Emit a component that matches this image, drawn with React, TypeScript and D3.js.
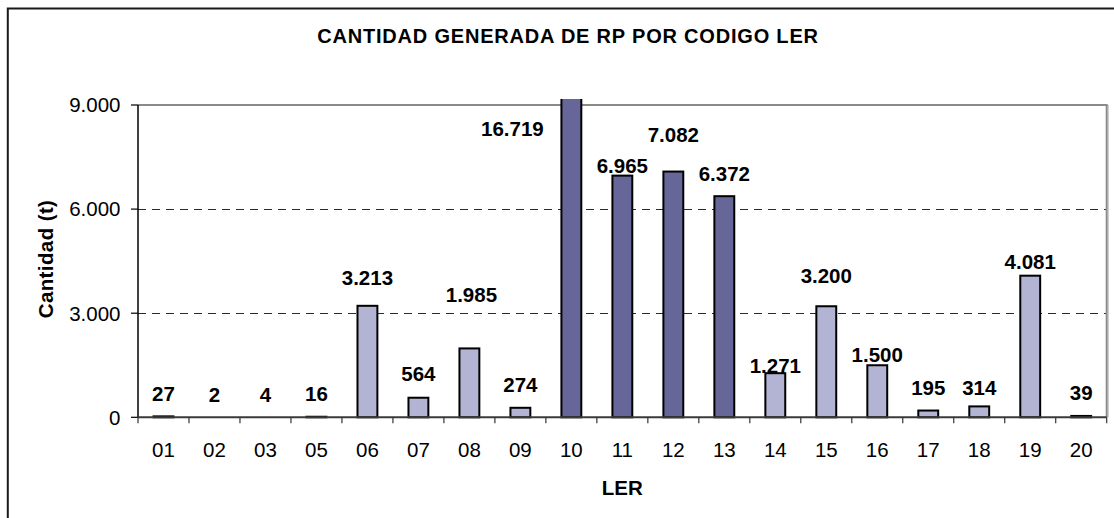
import React from "react";
import * as d3 from "d3";

const categories = ["01", "02", "03", "05", "06", "07", "08", "09", "10", "11", "12", "13", "14", "15", "16", "17", "18", "19", "20"];
const values = [27, 2, 4, 16, 3213, 564, 1985, 274, 16719, 6965, 7082, 6372, 1271, 3200, 1500, 195, 314, 4081, 39];
const highlighted = ["10", "11", "12", "13"];
const yTicks = [0, 3000, 6000, 9000];
const gridTicks = [3000, 6000];
const yMax = 9000;
const title = "CANTIDAD GENERADA DE RP POR CODIGO LER";
const yTitle = "Cantidad (t)";
const xTitle = "LER";

// label placement tweaks (layout, px relative to bar top / center)
const labelDx = [0, 0, 0, 0, 0, 0, 2, 0, -59, 0, 0, 0, 0, 0, 0, 0, 0, 0, 0];
const labelDy = [-23, -23, -23, -23.4, -28.3, -23.7, -53.4, -22.8, 23.3, -10, -36.6, -23, -8, -31, -11, -23, -19, -14, -23.3];

const W = 1114;
const H = 518;
const plot = { left: 138, right: 1106.7, top: 105, bottom: 417.3 };
const FONT = "'Liberation Sans', Arial, sans-serif";

const locale = d3.formatLocale({ decimal: ",", thousands: ".", grouping: [3], currency: ["", "€"] });
const fmt = locale.format(",d");

export default function App() {
  const x = d3.scaleBand<string>().domain(categories).range([plot.left, plot.right]).padding(0);
  const y = d3.scaleLinear().domain([0, yMax]).range([plot.bottom, plot.top]);
  const step = x.step();
  const barW = step * 0.39;
  const tickEdges = d3.range(categories.length + 1).map((i) => plot.left + i * step);

  return (
    <svg width={W} height={H} style={{ position: "absolute", left: 0, top: 0, background: "#fff" }} fontFamily={FONT}>
      <defs>
        <clipPath id="plotClip">
          <rect x={plot.left} y={plot.top - 6} width={plot.right - plot.left} height={plot.bottom - plot.top + 12} />
        </clipPath>
      </defs>
      <rect x={0} y={0} width={W} height={H} fill="#fff" />
      {/* outer chart frame (extends beyond the picture) */}
      <rect x={7.8} y={8.5} width={W + 50} height={H + 50} fill="#fff" stroke="#1a1a1a" strokeWidth={2} />

      {/* title */}
      <text x={568} y={43} textAnchor="middle" fontSize={20} fontWeight="bold" letterSpacing={0.8} fill="#000">
        {title}
      </text>

      {/* gridlines */}
      {gridTicks.map((t) => (
        <line
          key={t}
          x1={plot.left}
          x2={plot.right}
          y1={Math.round(y(t)) + 0.5}
          y2={Math.round(y(t)) + 0.5}
          stroke="#2a2a2a"
          strokeWidth={1}
          strokeDasharray="8,6"
          shapeRendering="crispEdges"
        />
      ))}

      {/* plot border top/right */}
      <line x1={plot.left} x2={plot.right + 1} y1={y(yMax)} y2={y(yMax)} stroke="#8a8a8a" strokeWidth={2} />
      <line x1={plot.right} x2={plot.right} y1={plot.top} y2={plot.bottom} stroke="#8a8a8a" strokeWidth={2} />
      <line x1={plot.right + 1.8} x2={plot.right + 1.8} y1={plot.top} y2={plot.bottom} stroke="#cfcfcf" strokeWidth={1} />

      {/* bars */}
      <g clipPath="url(#plotClip)">
        {categories.map((c, i) => {
          const v = values[i];
          const top = y(v);
          const h = plot.bottom - top;
          if (h < 0.5) return null;
          const cx = (x(c) as number) + step / 2;
          return (
            <rect
              key={c}
              x={cx - barW / 2}
              y={top}
              width={barW}
              height={h}
              fill={highlighted.includes(c) ? "#666699" : "#B3B3D3"}
              stroke="#000"
              strokeWidth={2}
            />
          );
        })}
      </g>

      {/* axes */}
      <line x1={plot.left} x2={plot.left} y1={plot.top} y2={plot.bottom} stroke="#000" strokeWidth={1.5} />
      <line x1={plot.left} x2={plot.right} y1={plot.bottom} y2={plot.bottom} stroke="#3a3a3a" strokeWidth={2} />
      {yTicks.map((t) => (
        <g key={t}>
          <line x1={plot.left - 7} x2={plot.left} y1={y(t)} y2={y(t)} stroke="#000" strokeWidth={1.2} />
          <text x={120.5} y={y(t)} dy="0.36em" textAnchor="end" fontSize={20.5} fill="#000">
            {fmt(t)}
          </text>
        </g>
      ))}
      {tickEdges.map((tx, i) => (
        <line key={i} x1={tx} x2={tx} y1={plot.bottom} y2={plot.bottom + 6} stroke="#333" strokeWidth={1.2} />
      ))}
      {categories.map((c) => (
        <text key={c} x={(x(c) as number) + step / 2} y={457.3} textAnchor="middle" fontSize={20.5} fill="#000">
          {c}
        </text>
      ))}

      {/* data labels */}
      {categories.map((c, i) => {
        const v = values[i];
        const top = y(Math.min(v, yMax));
        const cx = (x(c) as number) + step / 2 + labelDx[i];
        return (
          <text key={c} x={cx} y={top + labelDy[i]} dy="0.36em" textAnchor="middle" fontSize={20.5} fontWeight="bold" fill="#000">
            {fmt(v)}
          </text>
        );
      })}

      {/* axis titles */}
      <text x={(plot.left + plot.right) / 2} y={495} textAnchor="middle" fontSize={20.5} fontWeight="bold" fill="#000">
        {xTitle}
      </text>
      <text transform={`translate(53,259) rotate(-90)`} textAnchor="middle" fontSize={20.5} fontWeight="bold" letterSpacing={0.4} fill="#000">
        {yTitle}
      </text>
    </svg>
  );
}
